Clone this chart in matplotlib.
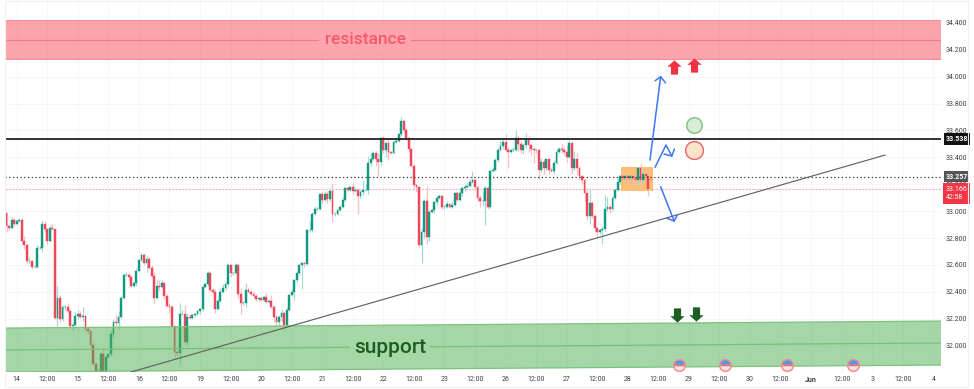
"""
Silver 1h chart with resistance / support zones and scenario arrows.
"""

import numpy as np
import matplotlib
matplotlib.use("Agg")
import matplotlib.pyplot as plt
from matplotlib.patches import Polygon, Rectangle

# -- Data ----------------------------------------------------------------------

first_open = 32.983

closes = [
    32.887, 32.877, 32.937, 32.907, 32.927, 32.937, 32.777, 32.747, 32.627, 32.627,
    32.587, 32.587, 32.727, 32.727, 32.907, 32.867, 32.777, 32.877, 32.867, 32.205,
    32.355, 32.195, 32.285, 32.285, 32.255, 32.145, 32.155, 32.22, 32.235, 32.215,
    32.22, 32.125, 32.105, 32.005, 31.865, 31.805, 31.805, 31.935, 31.805, 31.915,
    31.935, 32.085, 32.175, 32.165, 32.215, 32.355, 32.527, 32.527, 32.507, 32.445,
    32.465, 32.557, 32.637, 32.677, 32.617, 32.647, 32.577, 32.517, 32.355, 32.445,
    32.435, 32.465, 32.365, 32.295, 32.285, 32.145, 31.955, 31.945, 32.235, 32.235,
    32.025, 32.215, 32.205, 32.225, 32.235, 32.255, 32.27, 32.435, 32.455, 32.537,
    32.415, 32.40, 32.275, 32.335, 32.40, 32.425, 32.46, 32.597, 32.537, 32.537,
    32.597, 32.385, 32.315, 32.315, 32.415, 32.40, 32.385, 32.365, 32.345, 32.35,
    32.34, 32.36, 32.325, 32.335, 32.29, 32.215, 32.175, 32.21, 32.24, 32.155,
    32.265, 32.375, 32.40, 32.485, 32.537, 32.597, 32.612, 32.607, 32.857, 32.857,
    32.982, 33.019, 33.019, 33.125, 33.084, 33.129, 33.089, 33.149, 32.982, 32.982,
    33.009, 33.034, 33.084, 33.169, 33.159, 33.179, 33.149, 33.159, 33.109, 33.139,
    33.159, 33.159, 33.359, 33.389, 33.431, 33.389, 33.369, 33.541, 33.456, 33.506,
    33.441, 33.436, 33.516, 33.521, 33.571, 33.671, 33.601, 33.541, 33.461, 33.339,
    33.194, 33.179, 32.747, 32.847, 33.079, 32.807, 32.997, 33.009, 33.069, 33.099,
    33.109, 33.034, 33.034, 33.054, 33.034, 33.049, 33.134, 33.084, 33.134, 33.169,
    33.179, 33.189, 33.219, 33.229, 33.179, 33.099, 33.079, 33.079, 33.169, 33.034,
    33.299, 33.309, 33.379, 33.456, 33.481, 33.516, 33.456, 33.441, 33.456, 33.456,
    33.541, 33.501, 33.456, 33.491, 33.531, 33.491, 33.466, 33.456, 33.456, 33.309,
    33.369, 33.319, 33.389, 33.309, 33.299, 33.359, 33.441, 33.466, 33.456, 33.441,
    33.404, 33.506, 33.319, 33.389, 33.319, 33.259, 33.229, 33.134, 32.967, 33.059,
    32.967, 32.872, 32.847, 32.857, 32.867, 33.019, 33.034, 33.019, 33.099, 33.159,
    33.219, 33.259, 33.244, 33.259, 33.249, 33.259, 33.244, 33.229, 33.319, 33.229,
    33.279, 33.259, 33.166,
]

# wick lengths above / below the body, in cents
wick_up = [
    1, 1, 2, 1, 1, 1, 1, 4, 1, 3,
    1, 1, 2, 1, 3, 2, 1, 2, 3, 0,
    9, 2, 2, 2, 3, 2, 1, 3, 3, 2,
    7, 1, 2, 1, 2, 1, 3, 2, 5, 1,
    1, 3, 2, 5, 4, 1, 1, 2, 1, 2,
    1, 2, 1, 1, 1, 2, 1, 2, 3, 4,
    4, 2, 1, 2, 2, 2, 1, 1, 8, 3,
    7, 3, 2, 1, 1, 1, 1, 1, 2, 2,
    1, 1, 2, 1, 2, 3, 2, 2, 1, 1,
    2, 1, 4, 2, 5, 2, 1, 1, 2, 1,
    1, 1, 3, 1, 4, 1, 1, 2, 3, 1,
    2, 1, 2, 1, 1, 1, 1, 1, 1, 7,
    1, 2, 1, 1, 2, 2, 2, 1, 6, 1,
    1, 1, 2, 1, 2, 1, 3, 2, 1, 2,
    7, 4, 5, 4, 2, 2, 4, 1, 2, 1,
    3, 1, 1, 2, 1, 3, 1, 2, 1, 1,
    1, 1, 0, 3, 1, 11, 1, 1, 1, 1,
    2, 1, 1, 2, 1, 2, 1, 1, 2, 1,
    2, 2, 2, 7, 2, 1, 2, 7, 2, 1,
    1, 2, 2, 2, 4, 3, 6, 2, 1, 2,
    6, 2, 2, 1, 5, 3, 1, 1, 1, 1,
    3, 2, 1, 1, 1, 2, 2, 1, 3, 2,
    4, 2, 1, 6, 4, 2, 1, 1, 4, 11,
    2, 1, 1, 1, 2, 10, 7, 1, 1, 1,
    3, 1, 3, 1, 2, 1, 2, 2, 2, 4,
    2, 3, 1,
]
wick_dn = [
    4, 2, 1, 2, 1, 1, 2, 3, 1, 1,
    2, 1, 1, 1, 3, 2, 2, 1, 1, 1,
    7, 2, 1, 2, 1, 1, 3, 1, 2, 1,
    3, 2, 2, 2, 1, 1, 1, 1, 1, 1,
    1, 1, 3, 2, 4, 1, 1, 1, 2, 1,
    1, 2, 1, 1, 2, 7, 1, 1, 4, 1,
    2, 1, 2, 1, 4, 1, 5, 2, 8, 1,
    2, 2, 1, 1, 1, 1, 2, 1, 1, 1,
    2, 1, 3, 1, 1, 1, 1, 2, 3, 1,
    1, 3, 8, 1, 3, 1, 1, 1, 1, 1,
    1, 1, 1, 1, 1, 4, 3, 2, 3, 5,
    2, 1, 1, 6, 1, 1, 18, 2, 1, 1,
    1, 1, 1, 1, 2, 1, 3, 1, 6, 2,
    1, 1, 1, 1, 2, 1, 2, 1, 13, 1,
    2, 1, 3, 2, 1, 5, 11, 3, 2, 5,
    6, 1, 1, 1, 1, 1, 2, 1, 2, 1,
    2, 4, 1, 13, 5, 5, 3, 1, 2, 2,
    1, 2, 2, 1, 1, 1, 1, 1, 1, 2,
    2, 1, 1, 1, 2, 2, 5, 3, 18, 2,
    1, 1, 1, 1, 1, 2, 1, 12, 1, 1,
    1, 5, 2, 3, 2, 5, 5, 10, 2, 7,
    2, 4, 1, 3, 1, 2, 1, 1, 2, 2,
    4, 1, 4, 1, 5, 2, 3, 6, 3, 6,
    2, 3, 4, 2, 10, 2, 2, 3, 1, 1,
    1, 2, 1, 2, 5, 2, 6, 2, 4, 4,
    3, 2, 5,
]

first_hour = -4

tick_hours = np.arange(0, 361, 12)
tick_labels = ["14", "12:00", "15", "12:00", "16", "12:00", "19", "12:00", "20", "12:00",
               "21", "12:00", "22", "12:00", "23", "12:00", "26", "12:00", "27", "12:00",
               "28", "12:00", "29", "12:00", "30", "12:00", "Jun", "12:00", "3", "12:00", "4"]

price_ticks = [32.0, 32.2, 32.4, 32.6, 32.8, 33.0, 33.2, 33.4, 33.6, 33.8, 34.0, 34.2, 34.4]

level_black = 33.538
level_dotted = 33.257
level_last = 33.166

# zones and drawings
res_top, res_bottom, res_mid = 34.422, 34.132, 34.277
sup_left = (32.130, 31.967, 31.803)   # top, middle, bottom at the left edge
sup_right = (32.182, 32.019, 31.855)  # same at the right edge
trend_h = [44.9, 341.0]
trend_p = [31.803, 33.417]
box_h = [237.2, 249.9]
box_p = [33.150, 33.328]
box_mid = 33.239

arrow_up_h = [248.7, 252.9]
arrow_up_p = [33.380, 34.0]
arrow_up_head_h = [250.7, 252.9, 254.8]
arrow_up_head_p = [33.970, 34.0, 33.955]
arrow_mid_h = [250.7, 255.0, 257.3]
arrow_mid_p = [33.326, 33.492, 33.41]
arrow_mid_head_h = [254.2, 257.3, 258.3]
arrow_mid_head_p = [33.425, 33.41, 33.462]
arrow_dn_h = [252.9, 258.2]
arrow_dn_p = [33.182, 32.926]
arrow_dn_head_h = [255.5, 258.2, 259.4]
arrow_dn_head_p = [32.946, 32.926, 32.971]

red_mark_h = [258.2, 265.8]
red_mark_p = [34.074, 34.087]
green_mark_h = [259.5, 266.8]
green_mark_p = [32.225, 32.232]
circle_h = 265.8
circle_green_p = 33.641
circle_red_p = 33.452
flag_h = [260.2, 278.2, 302.4, 328.6]
flag_p = [31.853, 31.853, 31.853, 31.853]

# -- Colours -------------------------------------------------------------------

UP = "#129a80"
DOWN = "#f0465a"
UP_WICK = "#a5dbd0"
DOWN_WICK = "#fbbcc3"
BLUE = "#3b78f5"
TXT = "#3c3f48"
FONT = "Roboto"

# -- Figure --------------------------------------------------------------------

W, H = 974, 389
fig = plt.figure(figsize=(W / 100, H / 100), dpi=100, facecolor="white")
ax = fig.add_axes([5 / W, (H - 372) / H, 936 / W, 372 / H])
ax.set_xlim(-4.6, 363.0)
ax.set_ylim(31.803, 34.571)
ax.set_facecolor("white")
for spine in ax.spines.values():
    spine.set_visible(False)

ax.set_xticks(tick_hours)
ax.set_xticklabels(tick_labels, fontsize=5, color=TXT, fontfamily=FONT)
ax.get_xticklabels()[26].set_fontweight("bold")
ax.yaxis.tick_right()
ax.set_yticks(price_ticks)
ax.set_yticklabels([f"{p:.3f}" for p in price_ticks], fontsize=5, color=TXT, fontfamily=FONT)
ax.tick_params(axis="both", length=0)
ax.tick_params(axis="x", pad=3)
ax.tick_params(axis="y", pad=3)
ax.grid(color="#f6f6f8", linewidth=0.7, zorder=0)
ax.set_axisbelow(True)

# -- Candles -------------------------------------------------------------------

closes = np.array(closes)
opens = np.concatenate(([first_open], closes[:-1]))
hours = first_hour + np.arange(len(closes))
highs = np.maximum(opens, closes) + np.array(wick_up) / 100
lows = np.minimum(opens, closes) - np.array(wick_dn) / 100
rising = closes >= opens
body_col = np.where(rising, UP, DOWN)
wick_col = np.where(rising, UP_WICK, DOWN_WICK)

ax.vlines(hours, lows, highs, colors=wick_col, linewidth=0.9, zorder=2)
ax.bar(hours, closes - opens, bottom=opens, width=0.72, color=body_col,
       edgecolor=body_col, linewidth=0.3, zorder=3)

# -- Zones ---------------------------------------------------------------------

xl, xr = ax.get_xlim()
ax.add_patch(Rectangle((xl, res_bottom), xr - xl, res_top - res_bottom, facecolor="#fb4a5a",
                       alpha=0.5, edgecolor="none", zorder=4))
ax.hlines([res_top, res_bottom], xl, xr, colors="#f78d96", linewidth=0.8, zorder=4)
ax.hlines(res_mid, xl, xr, colors="#ee7f8a", linewidth=0.9, zorder=4)
ax.text(136.8, res_mid, "resistance", fontsize=12.5, color="#f55a6b", fontfamily=FONT,
        fontweight="medium", ha="center", va="center", zorder=5,
        bbox=dict(facecolor="#fda4ac", edgecolor="none", pad=4))

ax.add_patch(Polygon([(xl, sup_left[0]), (xr, sup_right[0]), (xr, sup_right[2]), (xl, sup_left[2])],
                     facecolor="#4caf50", alpha=0.5, edgecolor="none", zorder=4))
ax.plot([xl, xr], [sup_left[0], sup_right[0]], color="#7cc27e", linewidth=0.9, zorder=4)
ax.plot([xl, xr], [sup_left[1], sup_right[1]], color="#78bf7a", linewidth=0.9, zorder=4)
ax.plot([xl, xr], [sup_left[2], sup_right[2]], color="#7cc27e", linewidth=0.9, zorder=4)
ax.text(146.6, 31.985, "support", fontsize=15, color="#1b5e20", fontfamily=FONT,
        fontweight="medium", ha="center", va="center", zorder=5,
        bbox=dict(facecolor="#a5d7a7", edgecolor="none", pad=3))

# -- Levels and drawings -------------------------------------------------------

ax.axhline(level_last, color="#f9b3bb", linewidth=0.8, linestyle=(0, (2, 1)), zorder=1.5)
ax.axhline(level_dotted, color="#333333", linewidth=0.9, linestyle=(0, (1, 2)), zorder=4)
ax.axhline(level_black, color="#222222", linewidth=1.3, zorder=4)
ax.plot(trend_h, trend_p, color="#626262", linewidth=0.85, zorder=4)

ax.add_patch(Rectangle((box_h[0], box_p[0]), box_h[1] - box_h[0], box_p[1] - box_p[0],
                       facecolor="#ffbe73", edgecolor="none", zorder=1.8))
ax.hlines(box_mid, box_h[0], box_h[1], colors="#f4a04a", linewidth=0.8, zorder=1.9)

for xs, ys in [(arrow_up_h, arrow_up_p), (arrow_up_head_h, arrow_up_head_p),
               (arrow_mid_h, arrow_mid_p), (arrow_mid_head_h, arrow_mid_head_p),
               (arrow_dn_h, arrow_dn_p), (arrow_dn_head_h, arrow_dn_head_p)]:
    ax.plot(xs, ys, color=BLUE, linewidth=1.1, solid_capstyle="round", zorder=6)

arrow_verts = [(0, 1), (1, 0.1), (0.5, 0.1), (0.5, -1), (-0.5, -1), (-0.5, 0.1), (-1, 0.1)]
ax.scatter(red_mark_h, red_mark_p, s=105, marker=arrow_verts, color="#f0313f", linewidths=0, zorder=6)
ax.scatter(green_mark_h, green_mark_p, s=105, marker=[(x, -y) for x, y in arrow_verts],
           color="#1b5e20", linewidths=0, zorder=6)

ax.scatter([circle_h], [circle_green_p], s=125, facecolor="#d7edd7", edgecolor="#7ac27a",
           linewidths=1.0, zorder=6)
ax.scatter([circle_h], [circle_red_p], s=165, facecolor="#fde3c8", edgecolor="#f0616d",
           linewidths=1.0, zorder=6)

# economic calendar flags
ax.plot(flag_h, flag_p, linestyle="", marker="o", markersize=8.4, fillstyle="top",
        markerfacecolor="#4d9be6", markerfacecoloralt="#fbe3e3", markeredgecolor="#f58a8a",
        markeredgewidth=1.1, zorder=7, clip_on=False)
ax.plot(flag_h, flag_p, linestyle="", marker="_", markersize=6, markeredgecolor="#ef6a6a",
        markeredgewidth=0.8, zorder=8, clip_on=False)

# -- Price tags on the scale ---------------------------------------------------

tag_x = 1.0047
trans = ax.get_yaxis_transform()
ax.text(tag_x, level_black, f"{level_black:.3f}", transform=trans, fontsize=5, color="white",
        fontfamily=FONT, fontweight="bold", ha="left", va="center", zorder=10, clip_on=False,
        bbox=dict(facecolor="#111111", edgecolor="none", pad=1.3))
ax.text(tag_x, level_dotted, f"{level_dotted:.3f}", transform=trans, fontsize=5, color="white",
        fontfamily=FONT, fontweight="bold", ha="left", va="center", zorder=10, clip_on=False,
        bbox=dict(facecolor="#555555", edgecolor="none", pad=1.3))
ax.text(tag_x, level_last - 0.035, f"{level_last:.3f}\n42:58", transform=trans, fontsize=5,
        color="white", fontfamily=FONT, ha="left", va="center", zorder=10, clip_on=False,
        linespacing=1.25, bbox=dict(facecolor="#f23645", edgecolor="none", pad=2.0))

# faint outer frame of the chart widget
fig.add_artist(Rectangle((5 / W, 2 / H), 963 / W, 386 / H, transform=fig.transFigure, fill=False,
                         edgecolor="#f0f0f0", linewidth=0.8))

fig.savefig("out.png", dpi=100, facecolor="white")
plt.close(fig)
